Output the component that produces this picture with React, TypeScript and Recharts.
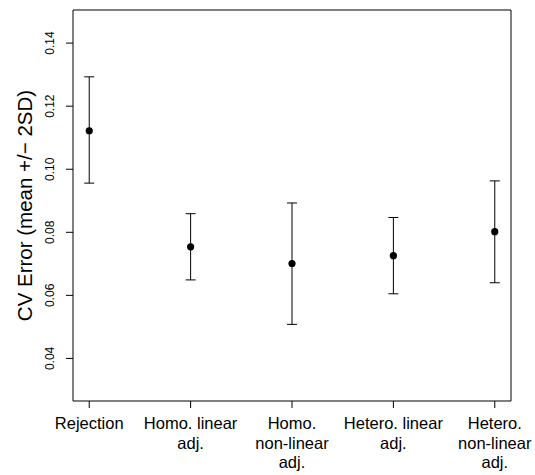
import {
  ComposedChart,
  Scatter,
  ErrorBar,
  XAxis,
  YAxis,
  ReferenceArea,
} from "recharts";

const categories = [
  "Rejection",
  "Homo. linear\nadj.",
  "Homo.\nnon-linear\nadj.",
  "Hetero. linear\nadj.",
  "Hetero.\nnon-linear\nadj.",
];
const means = [0.1122, 0.0754, 0.0701, 0.0726, 0.0802];
const lower = [0.0956, 0.0649, 0.0508, 0.0605, 0.064];
const upper = [0.1293, 0.0859, 0.0893, 0.0847, 0.0963];
const yTicks = [0.04, 0.06, 0.08, 0.1, 0.12, 0.14];
const xTicks = [1, 2, 3, 4, 5];

const X_DOMAIN: [number, number] = [0.84, 5.16];
const Y_DOMAIN: [number, number] = [0.0265, 0.1505];
const FONT = "'Liberation Sans', Arial, Helvetica, sans-serif";

const data = means.map((m, i) => ({
  x: i + 1,
  mean: m,
  err: [m - lower[i], upper[i] - m],
}));

function XTick(props: any) {
  const { x, y, payload } = props;
  const lines = categories[payload.value - 1].split("\n");
  return (
    <text x={x} y={y + 19} textAnchor="middle" fontSize={16.5} fontFamily={FONT} fill="#000">
      {lines.map((l, i) => (
        <tspan key={i} x={x} dy={i === 0 ? 0 : 19.5}>
          {l}
        </tspan>
      ))}
    </text>
  );
}

function YTick(props: any) {
  const { y, payload } = props;
  return (
    <text
      x={50}
      y={y}
      dy="0.35em"
      textAnchor="middle"
      fontSize={12}
      fontFamily={FONT}
      fill="#000"
      transform={`rotate(-90, 50, ${y})`}
    >
      {payload.value.toFixed(2)}
    </text>
  );
}

const Dot = (props: any) => <circle cx={props.cx} cy={props.cy} r={3.6} fill="#000" />;

export default function App() {
  return (
    <div style={{ position: "absolute", left: 0, top: 0, background: "#fff" }}>
      <ComposedChart
        width={535}
        height={475}
        data={data}
        margin={{ top: 10, right: 24, left: 0, bottom: 0 }}
      >
        <XAxis
          type="number"
          dataKey="x"
          domain={X_DOMAIN}
          ticks={xTicks}
          allowDataOverflow
          height={74}
          axisLine={false}
          tickLine={{ stroke: "#000" }}
          tickSize={7}
          tick={<XTick />}
          interval={0}
        />
        <YAxis
          type="number"
          domain={Y_DOMAIN}
          ticks={yTicks}
          allowDataOverflow
          width={73}
          axisLine={false}
          tickLine={{ stroke: "#000" }}
          tickSize={7}
          tick={<YTick />}
          interval={0}
          label={{
            content: (p: any) => {
              const vb = p.viewBox;
              const cy = vb.y + vb.height / 2;
              return (
                <text
                  x={25}
                  y={cy}
                  dy="0.35em"
                  textAnchor="middle"
                  fontSize={20.5}
                  fontFamily={FONT}
                  fill="#000"
                  transform={`rotate(-90, 25, ${cy})`}
                >
                  CV Error (mean +/− 2SD)
                </text>
              );
            },
          }}
        />
        <ReferenceArea
          x1={X_DOMAIN[0]}
          x2={X_DOMAIN[1]}
          y1={Y_DOMAIN[0]}
          y2={Y_DOMAIN[1]}
          fill="none"
          stroke="#000"
          strokeWidth={1}
          ifOverflow="visible"
        />
        <Scatter dataKey="mean" shape={<Dot />} isAnimationActive={false}>
          <ErrorBar
            dataKey="err"
            direction="y"
            width={5}
            stroke="#000"
            strokeWidth={1}
            isAnimationActive={false}
          />
        </Scatter>
      </ComposedChart>
    </div>
  );
}
